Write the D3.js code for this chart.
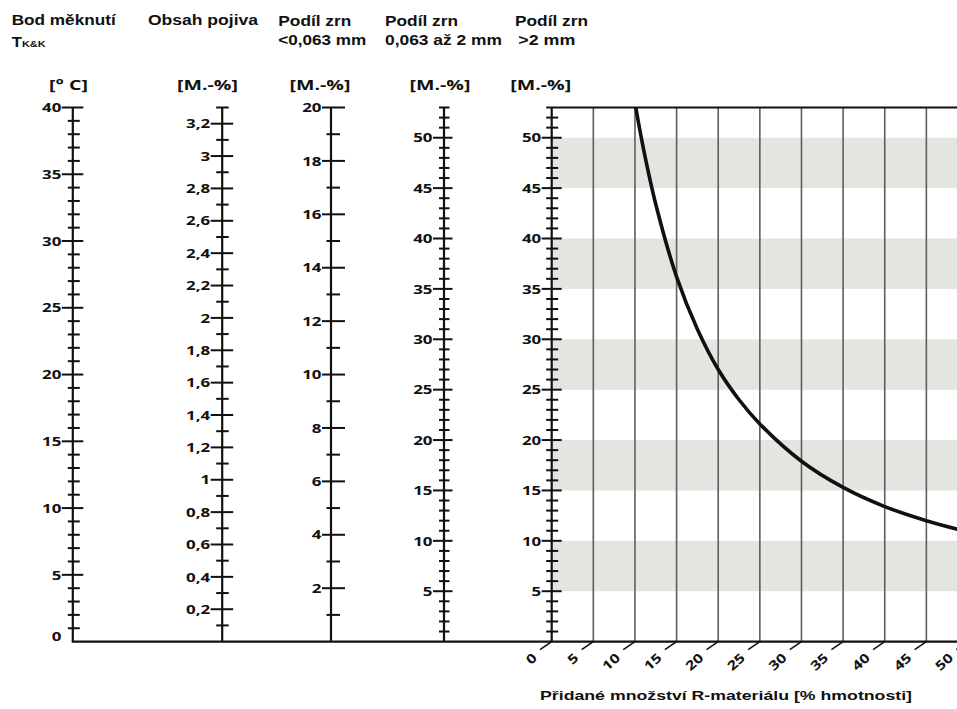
<!DOCTYPE html>
<html>
<head>
<meta charset="utf-8">
<script src="https://cdn.jsdelivr.net/npm/d3@7"></script>
<style>
  body { margin: 0; background: #fff; }
  svg { display: block; }
  .hdr { font-family: "Liberation Sans", Arial, sans-serif; font-weight: bold; font-size: 14.5px; fill: #111; }
  .unit { font-family: "Open Sans", sans-serif; font-weight: 700; font-size: 14px; fill: #111; }
  .tick-label { font-family: "Open Sans", sans-serif; font-weight: 700; font-size: 13px; fill: #111; }
  .x-title { font-family: "Liberation Sans", Arial, sans-serif; font-weight: bold; font-size: 13.4px; fill: #111; }
</style>
</head>
<body>
<div id="wrapper"></div>
<script>
// ---- data ----
const headerLines = [
  ["Bod měknutí", "T"],
  ["Obsah pojiva"],
  ["Podíl zrn", "<0,063 mm"],
  ["Podíl zrn", "0,063 až 2 mm"],
  ["Podíl zrn", ">2 mm"],
]
const headerSub = "K&K"
const unitLabels = ["[° C]", "[M.-%]", "[M.-%]", "[M.-%]", "[M.-%]"]

const tempTicks = [0, 5, 10, 15, 20, 25, 30, 35, 40]
const binderTicks = [0.2, 0.4, 0.6, 0.8, 1, 1.2, 1.4, 1.6, 1.8, 2, 2.2, 2.4, 2.6, 2.8, 3, 3.2]
const fineTicks = [2, 4, 6, 8, 10, 12, 14, 16, 18, 20]
const sandTicks = [5, 10, 15, 20, 25, 30, 35, 40, 45, 50]
const coarseTicks = [5, 10, 15, 20, 25, 30, 35, 40, 45, 50]
const xTicks = [0, 5, 10, 15, 20, 25, 30, 35, 40, 45, 50]
const bandRanges = [[5, 10], [15, 20], [25, 30], [35, 40], [45, 50]]

// added R-material [%] vs. share of grains > 2 mm [M.-%]
const curveX = [10.1, 11, 12.5, 15, 17.5, 20, 22.5, 25, 30, 35, 40, 45, 49]
const curveY = [53, 49, 43.4, 36.2, 31.0, 27.0, 24.0, 21.6, 17.9, 15.3, 13.4, 12.0, 11.1]

const xTitle = "Přidané množství R-materiálu [% hmotnosti]"

// ---- layout ----
const width = 957
const height = 709
const topY = 107.5
const baseY = 641.6
const ink = "#111"

const czFormat = d3.formatLocale({ decimal: ",", thousands: " ", grouping: [3], currency: ["", ""] }).format("~g")

const svg = d3.select("#wrapper").append("svg")
  .attr("width", width)
  .attr("height", height)

function stretched(parent, x, y, str, cls, sx, anchor, extra = "") {
  return parent.append("text")
    .attr("class", cls)
    .attr("text-anchor", anchor)
    .attr("transform", `translate(${x},${y}) ${extra} scale(${sx},1)`)
    .text(str)
}

function fitted(parent, x, y, str, cls, len, anchor = "start") {
  return parent.append("text")
    .attr("class", cls)
    .attr("x", x).attr("y", y)
    .attr("text-anchor", anchor)
    .attr("textLength", len)
    .attr("lengthAdjust", "spacingAndGlyphs")
    .text(str)
}

// scales
const xScale = d3.scaleLinear().domain([0, 50]).range([551.7, 968])
const scales = [
  { x: 72.8, y: d3.scaleLinear().domain([0, 40]).range([baseY, topY]), ticks: tempTicks,
    minor: d3.range(1, 40).filter(v => v % 5 !== 0), cap: null,
    maj: [-11, 10.5], min: [-5, 7], unitX: 68.5 },
  { x: 222.2, y: d3.scaleLinear().domain([0, 3.3]).range([baseY, topY]), ticks: binderTicks,
    minor: d3.range(1, 33, 2).map(v => v / 10), cap: 3.3,
    maj: [-11.5, 11], min: [-6, 6.5], unitX: 207.5 },
  { x: 331, y: d3.scaleLinear().domain([0, 20]).range([baseY, topY]), ticks: fineTicks,
    minor: d3.range(1, 20, 2), cap: null,
    maj: [-9, 14], min: [-4.5, 9], unitX: 320 },
  { x: 444, y: d3.scaleLinear().domain([0, 53]).range([baseY, topY]), ticks: sandTicks,
    minor: d3.range(1, 53).filter(v => v % 5 !== 0), cap: 53,
    maj: [-11, 8.5], min: [-5, 5.5], unitX: 440 },
  { x: 551.7, y: d3.scaleLinear().domain([0, 53]).range([baseY, topY]), ticks: coarseTicks,
    minor: d3.range(1, 53).filter(v => v % 5 !== 0), cap: null,
    maj: [-10, 10], min: [-5.5, 6.5], unitX: 540.7 },
]
const yScale = scales[4].y

// ---- plot background ----
const plot = svg.append("g")
plot.selectAll("rect.band")
  .data(bandRanges)
  .join("rect")
  .attr("class", "band")
  .attr("x", xScale(0))
  .attr("width", width - xScale(0))
  .attr("y", d => yScale(d[1]))
  .attr("height", d => yScale(d[0]) - yScale(d[1]))
  .attr("fill", "#e3e5e0")

plot.selectAll("line.grid")
  .data(xTicks.filter(v => v > 0))
  .join("line")
  .attr("class", "grid")
  .attr("x1", d => xScale(d)).attr("x2", d => xScale(d))
  .attr("y1", topY).attr("y2", baseY)
  .attr("stroke", "#5e5e5e")
  .attr("stroke-width", 1.6)

// top frame line
plot.append("line")
  .attr("x1", xScale(0) - 5.5).attr("x2", width)
  .attr("y1", yScale(53)).attr("y2", yScale(53))
  .attr("stroke", ink).attr("stroke-width", 2)

// curve
const clip = svg.append("clipPath").attr("id", "plotClip")
clip.append("rect").attr("x", xScale(0)).attr("y", topY - 1).attr("width", width).attr("height", baseY - topY + 1)
const curvePts = curveX.map((x, i) => [x, curveY[i]])
plot.append("path")
  .datum(curvePts)
  .attr("clip-path", "url(#plotClip)")
  .attr("fill", "none")
  .attr("stroke", ink)
  .attr("stroke-width", 3.6)
  .attr("d", d3.line().x(d => xScale(d[0])).y(d => yScale(d[1])).curve(d3.curveCatmullRom.alpha(0.5)))

// baseline
svg.append("line")
  .attr("x1", scales[0].x - 1).attr("x2", width)
  .attr("y1", baseY).attr("y2", baseY)
  .attr("stroke", ink).attr("stroke-width", 2.2)

// ---- vertical scales ----
scales.forEach((s, i) => {
  const g = svg.append("g")
  g.append("line")
    .attr("x1", s.x).attr("x2", s.x)
    .attr("y1", s.y(s.y.domain()[1])).attr("y2", baseY)
    .attr("stroke", ink).attr("stroke-width", 2.2)

  g.selectAll("line.minor")
    .data(s.cap != null ? s.minor.concat([s.cap]) : s.minor)
    .join("line")
    .attr("class", "minor")
    .attr("x1", s.x + s.min[0]).attr("x2", s.x + s.min[1])
    .attr("y1", d => s.y(d)).attr("y2", d => s.y(d))
    .attr("stroke", ink).attr("stroke-width", 2)

  g.selectAll("line.major")
    .data(s.ticks.filter(v => v > 0))
    .join("line")
    .attr("class", "major")
    .attr("x1", s.x + s.maj[0]).attr("x2", s.x + s.maj[1])
    .attr("y1", d => s.y(d)).attr("y2", d => s.y(d))
    .attr("stroke", ink).attr("stroke-width", 2)

  s.ticks.forEach(v => {
    const ty = Math.min(s.y(v), baseY - 5)
    stretched(g, s.x + s.maj[0] - 0.5, ty, czFormat(v), "tick-label", 1.3, "end")
      .attr("dy", "0.36em")
  })

  stretched(g, s.unitX, 90, unitLabels[i], "unit", 1.4, "middle")
})

// ---- x axis (slanted ticks) ----
const xg = svg.append("g")
xTicks.forEach(v => {
  const x0 = xScale(v)
  xg.append("line")
    .attr("x1", x0).attr("y1", baseY)
    .attr("x2", x0 - 11.7).attr("y2", baseY + 8)
    .attr("stroke", ink).attr("stroke-width", 1.6)
  stretched(xg, x0 - 17, baseY + 14, czFormat(v), "tick-label", 1.25, "end", "rotate(-42)")
    .attr("dy", "0.36em")
})
fitted(svg, 540, 700, xTitle, "x-title", 372)

// ---- headers ----
const headerPos = [
  [[11.7, 24.5, 104], [11.7, 46.8, null]],
  [[148, 24.5, 110]],
  [[278.3, 26, 73], [278.3, 45, 88]],
  [[385, 26, 73], [385, 45, 117]],
  [[515, 26, 73], [518.3, 45, 57]],
]
headerLines.forEach((lines, i) => {
  lines.forEach((str, j) => {
    const [hx, hy, len] = headerPos[i][j]
    if (len) {
      fitted(svg, hx, hy, str, "hdr", len)
    } else {
      const t = stretched(svg, hx, hy, str, "hdr", 1.15, "start")
      t.append("tspan").attr("font-size", "9.5px").text(headerSub)
    }
  })
})
</script>
</body>
</html>
